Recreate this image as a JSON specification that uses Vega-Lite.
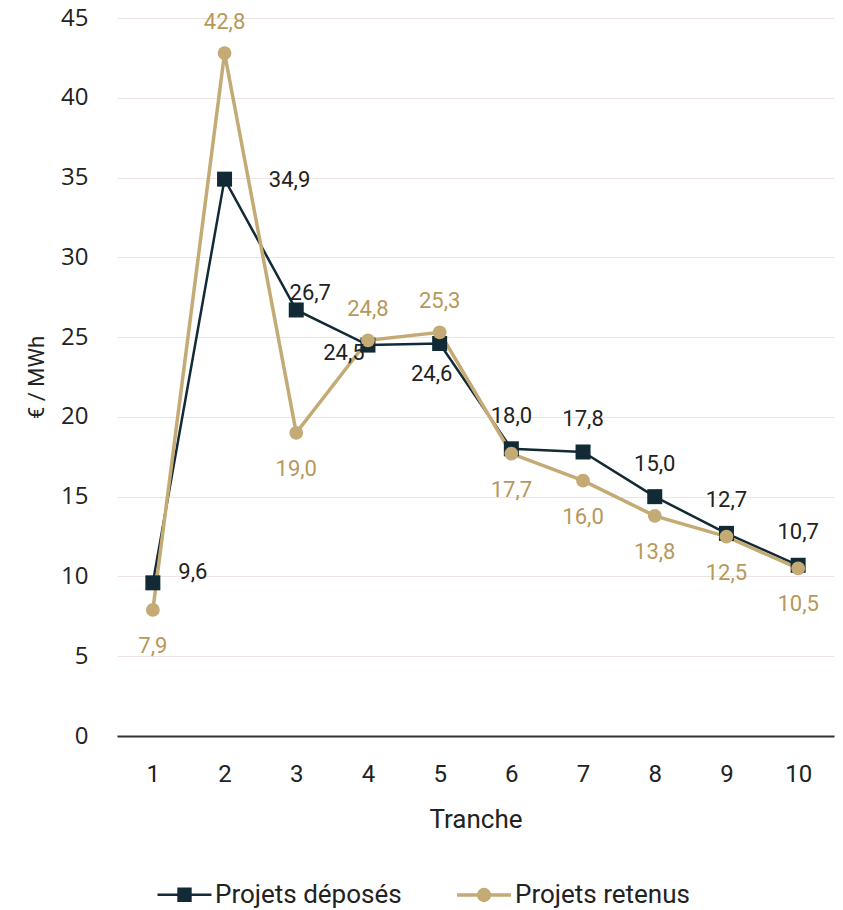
{
  "$schema": "https://vega.github.io/schema/vega-lite/v6.json",
  "autosize": "none",
  "width": 717,
  "height": 718,
  "padding": {"left": 117, "top": 18, "right": 9, "bottom": 174},
  "background": "white",
  "config": {
    "locale": {"number": {"decimal": ",", "thousands": " ", "grouping": [3], "currency": ["", " €"]}},
    "view": {"stroke": null},
    "font": "Roboto",
    "text": {"font": "Roboto"}
  },
  "data": {
    "values": [
      {"tranche": 1, "serie": "Projets déposés", "valeur": 9.6},
      {"tranche": 2, "serie": "Projets déposés", "valeur": 34.9},
      {"tranche": 3, "serie": "Projets déposés", "valeur": 26.7},
      {"tranche": 4, "serie": "Projets déposés", "valeur": 24.5},
      {"tranche": 5, "serie": "Projets déposés", "valeur": 24.6},
      {"tranche": 6, "serie": "Projets déposés", "valeur": 18.0},
      {"tranche": 7, "serie": "Projets déposés", "valeur": 17.8},
      {"tranche": 8, "serie": "Projets déposés", "valeur": 15.0},
      {"tranche": 9, "serie": "Projets déposés", "valeur": 12.7},
      {"tranche": 10, "serie": "Projets déposés", "valeur": 10.7},
      {"tranche": 1, "serie": "Projets retenus", "valeur": 7.9},
      {"tranche": 2, "serie": "Projets retenus", "valeur": 42.8},
      {"tranche": 3, "serie": "Projets retenus", "valeur": 19.0},
      {"tranche": 4, "serie": "Projets retenus", "valeur": 24.8},
      {"tranche": 5, "serie": "Projets retenus", "valeur": 25.3},
      {"tranche": 6, "serie": "Projets retenus", "valeur": 17.7},
      {"tranche": 7, "serie": "Projets retenus", "valeur": 16.0},
      {"tranche": 8, "serie": "Projets retenus", "valeur": 13.8},
      {"tranche": 9, "serie": "Projets retenus", "valeur": 12.5},
      {"tranche": 10, "serie": "Projets retenus", "valeur": 10.5}
    ]
  },
  "encoding": {
    "x": {
      "field": "tranche", "type": "ordinal", "title": "Tranche",
      "scale": {"type": "point", "padding": 0.5},
      "axis": {
        "labelAngle": 0, "labelFont": "Roboto", "labelFontSize": 24, "labelColor": "#222222",
        "labelPadding": 26, "ticks": false, "domain": true, "domainColor": "#333333", "domainWidth": 2,
        "grid": false, "titleFont": "Roboto", "titleFontSize": 26, "titleFontWeight": "normal",
        "titleColor": "#222222", "titlePadding": 20
      }
    },
    "y": {
      "field": "valeur", "type": "quantitative", "title": "€ / MWh",
      "scale": {"domain": [0, 45]},
      "axis": {
        "values": [0, 5, 10, 15, 20, 25, 30, 35, 40, 45], "format": "d",
        "labelFont": "Open Sans", "labelFontSize": 24, "labelColor": "#222222", "labelPadding": 29,
        "ticks": false, "domain": false, "grid": true, "gridColor": "#efe3e3", "gridWidth": 1,
        "titleFont": "Roboto", "titleFontSize": 22, "titleFontWeight": "normal", "titleColor": "#222222",
        "titlePadding": 12
      }
    }
  },
  "layer": [
    {
      "mark": {"type": "line", "strokeJoin": "miter"},
      "encoding": {
        "color": {
          "field": "serie", "type": "nominal",
          "scale": {"domain": ["Projets déposés", "Projets retenus"], "range": ["#122a35", "#c4aa74"]},
          "legend": {
            "orient": "none", "legendX": 39, "legendY": 848, "direction": "horizontal", "title": null,
            "symbolSize": 2916, "labelFont": "Roboto", "labelFontSize": 26, "labelColor": "#222222",
            "labelOffset": 2, "labelLimit": 0, "columnPadding": 48, "symbolStrokeWidth": 3,
            "encode": {
              "symbols": {
                "update": {
                  "shape": {"signal": "datum.value === 'Projets déposés' ? 'M-1,0H1M-0.22,-0.22H0.22V0.22H-0.22Z' : 'M-1,0H1M0.2,0A0.2,0.2 0 1,1 -0.2,0A0.2,0.2 0 1,1 0.2,0Z'"},
                  "size": {"value": 2916},
                  "fill": {"signal": "datum.value === 'Projets déposés' ? '#122a35' : '#c4aa74'"},
                  "stroke": {"signal": "datum.value === 'Projets déposés' ? '#122a35' : '#c4aa74'"},
                  "strokeWidth": {"value": 3},
                  "opacity": {"value": 1}
                }
              }
            }
          }
        },
        "strokeWidth": {
          "field": "serie", "type": "nominal",
          "scale": {"domain": ["Projets déposés", "Projets retenus"], "range": [2.5, 3.5]},
          "legend": null
        }
      }
    },
    {
      "transform": [{"filter": "datum.serie === 'Projets déposés'"}],
      "mark": {"type": "point", "filled": true, "opacity": 1, "shape": "square", "size": 225},
      "encoding": {"color": {"field": "serie", "type": "nominal"}}
    },
    {
      "transform": [{"filter": "datum.serie === 'Projets retenus'"}],
      "mark": {"type": "point", "filled": true, "opacity": 1, "shape": "circle", "size": 190},
      "encoding": {"color": {"field": "serie", "type": "nominal"}}
    },
    {
      "transform": [{"filter": "datum.serie === 'Projets déposés' && datum.tranche >= 6"}],
      "mark": {"type": "text", "fontSize": 22, "color": "#222222", "dy": -33},
      "encoding": {"text": {"field": "valeur", "type": "quantitative", "format": ".1f"}}
    },
    {
      "transform": [{"filter": "datum.serie === 'Projets déposés' && datum.tranche === 1"}],
      "mark": {"type": "text", "fontSize": 22, "color": "#222222", "dx": 40, "dy": -11},
      "encoding": {"text": {"field": "valeur", "type": "quantitative", "format": ".1f"}}
    },
    {
      "transform": [{"filter": "datum.serie === 'Projets déposés' && datum.tranche === 2"}],
      "mark": {"type": "text", "fontSize": 22, "color": "#222222", "dx": 65, "dy": 1},
      "encoding": {"text": {"field": "valeur", "type": "quantitative", "format": ".1f"}}
    },
    {
      "transform": [{"filter": "datum.serie === 'Projets déposés' && datum.tranche === 3"}],
      "mark": {"type": "text", "fontSize": 22, "color": "#222222", "dx": 14, "dy": -17},
      "encoding": {"text": {"field": "valeur", "type": "quantitative", "format": ".1f"}}
    },
    {
      "transform": [{"filter": "datum.serie === 'Projets déposés' && datum.tranche === 4"}],
      "mark": {"type": "text", "fontSize": 22, "color": "#222222", "dx": -24, "dy": 8},
      "encoding": {"text": {"field": "valeur", "type": "quantitative", "format": ".1f"}}
    },
    {
      "transform": [{"filter": "datum.serie === 'Projets déposés' && datum.tranche === 5"}],
      "mark": {"type": "text", "fontSize": 22, "color": "#222222", "dx": -8, "dy": 31},
      "encoding": {"text": {"field": "valeur", "type": "quantitative", "format": ".1f"}}
    },
    {
      "transform": [{"filter": "datum.serie === 'Projets retenus' && (datum.tranche === 2 || datum.tranche === 4 || datum.tranche === 5)"}],
      "mark": {"type": "text", "fontSize": 22, "color": "#b8985a", "dy": -31},
      "encoding": {"text": {"field": "valeur", "type": "quantitative", "format": ".1f"}}
    },
    {
      "transform": [{"filter": "datum.serie === 'Projets retenus' && !(datum.tranche === 2 || datum.tranche === 4 || datum.tranche === 5)"}],
      "mark": {"type": "text", "fontSize": 22, "color": "#b8985a", "dy": 36},
      "encoding": {"text": {"field": "valeur", "type": "quantitative", "format": ".1f"}}
    }
  ]
}
